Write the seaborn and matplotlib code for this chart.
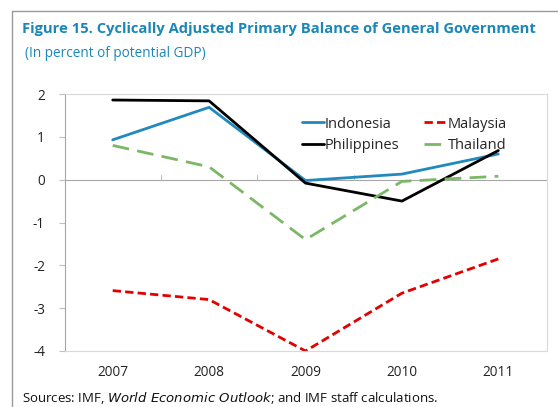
import matplotlib
matplotlib.use("Agg")
import matplotlib.pyplot as plt
import matplotlib.transforms as mtransforms
import pandas as pd
import seaborn as sns

years = ["2007", "2008", "2009", "2010", "2011"]
indonesia = [0.93, 1.69, -0.02, 0.13, 0.60]
malaysia = [-2.59, -2.80, -4.00, -2.65, -1.85]
philippines = [1.86, 1.84, -0.08, -0.50, 0.68]
thailand = [0.80, 0.30, -1.40, -0.04, 0.08]

title_color = "#1a87b8"

sns.set_theme(style="white")
plt.rcParams["font.family"] = ["Open Sans", "DejaVu Sans"]
plt.rcParams["axes.unicode_minus"] = False

fig = plt.figure(figsize=(5.58, 4.07), dpi=100)
ax = fig.add_axes([0.1156, 0.1376, 0.8638, 0.6314])

pos = list(range(len(years)))
series = [
    ("Indonesia", indonesia, "#2289be", None),
    ("Malaysia", malaysia, "#e30000", (3, 1.5)),
    ("Philippines", philippines, "black", None),
    ("Thailand", thailand, "#7ab866", (6, 3)),
]
for name, vals, col, dash in series:
    df = pd.DataFrame({"x": pos, "y": vals})
    sns.lineplot(data=df, x="x", y="y", ax=ax, color=col, lw=2.0, label=name)
    if dash is not None:
        ax.lines[-1].set_dashes(dash)

ax.set_xlim(-0.5, len(years) - 0.5)
ax.set_ylim(-4, 2)
ax.set_xticks(pos)
ax.set_xticklabels(years)
ax.set_yticks(range(-4, 3))
ax.set_xlabel("")
ax.set_ylabel("")
ax.tick_params(axis="x", length=0, pad=10, labelsize=9.8, colors="#222222")
ax.tick_params(axis="y", length=4, width=0.8, color="#bfbfbf", pad=10,
               labelsize=9.8, labelcolor="#222222", direction="out")
ax.yaxis.set_tick_params(left=True)

for s in ["top", "right", "bottom"]:
    ax.spines[s].set_color("#d9d9d9")
    ax.spines[s].set_linewidth(0.8)
ax.spines["left"].set_color("#a6a6a6")
ax.spines["left"].set_linewidth(0.8)

# zero line with category ticks
ax.axhline(0, color="#a6a6a6", lw=0.8, zorder=1)
trans = mtransforms.blended_transform_factory(ax.transData, ax.transAxes)
for b in [0.5, 1.5, 2.5, 3.5]:
    ax.plot([b, b], [4 / 6, 4 / 6 + 0.018], color="#bfbfbf", lw=0.8,
            transform=trans, zorder=1)

# legend filled row by row
handles, labels = ax.get_legend_handles_labels()
order = [0, 2, 1, 3]
ax.legend([handles[i] for i in order], [labels[i] for i in order], ncol=2,
          frameon=False, loc="upper left", bbox_to_anchor=(0.48, 0.935),
          fontsize=10.5, handlelength=1.55, handletextpad=0.05,
          columnspacing=1.7, labelspacing=0.45, borderaxespad=0)

fig.text(0.039, 0.928, "Figure 15. Cyclically Adjusted Primary Balance of General Government",
         fontsize=10.6, fontweight="bold", color=title_color, va="center")
fig.text(0.045, 0.868, "(In percent of potential GDP)", fontsize=9.8,
         color=title_color, va="center")
fig.text(0.039, 0.022,
         r"Sources: IMF, $\it{World\ Economic\ Outlook}$; and IMF staff calculations.",
         fontsize=9.5, color="#111111", va="center")

# frame lines of the figure box
fig.add_artist(plt.Line2D([0.0215, 1.0], [0.973, 0.973], color="#9a9a9a", lw=1.0,
                          transform=fig.transFigure))
fig.add_artist(plt.Line2D([0.0215, 0.0215], [0.0, 0.973], color="#9a9a9a", lw=1.0,
                          transform=fig.transFigure))

fig.savefig("out.png", dpi=100)
